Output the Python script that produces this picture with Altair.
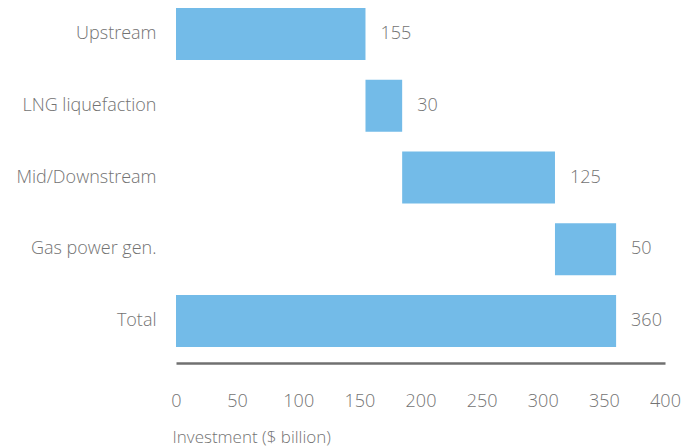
import altair as alt
import pandas as pd

categories = ["Upstream", "LNG liquefaction", "Mid/Downstream", "Gas power gen.", "Total"]
values = [155, 30, 125, 50, 360]
x_ticks = [0, 50, 100, 150, 200, 250, 300, 350, 400]

starts, ends = [], []
cum = 0
for c, v in zip(categories, values):
    if c == "Total":
        starts.append(0)
        ends.append(v)
    else:
        starts.append(cum)
        ends.append(cum + v)
        cum += v

df = pd.DataFrame({"category": categories, "value": values, "start": starts, "end": ends})

FONT = "Open Sans"
GREY = "#737373"
W = 300

y_enc = alt.Y(
    "category:N",
    sort=categories,
    scale=alt.Scale(paddingInner=0.275, paddingOuter=0.1115, align=0),
    axis=alt.Axis(title=None, domain=False, ticks=False, labelPadding=20,
                  labelFontSize=18, labelColor=GREY, labelFont=FONT, labelFontWeight=W,
                  labelLimit=300),
)

base = alt.Chart(df)

bars = base.mark_bar(color="#73BBE8").encode(
    x=alt.X(
        "start:Q",
        scale=alt.Scale(domain=[0, 400], nice=False),
        axis=alt.Axis(values=x_ticks, title="Investment ($ billion)", grid=False, ticks=False,
                      tickSize=0, domainColor="#707070", domainWidth=2.5,
                      labelFlush=False, labelOverlap=False,
                      labelPadding=29, labelFontSize=18, labelColor=GREY, labelFont=FONT,
                      labelFontWeight=W,
                      titleFont=FONT, titleFontSize=17, titleFontWeight=W,
                      titleColor=GREY, titleAnchor="start", titleAlign="left",
                      titleX=-4, titleY=74, titleBaseline="middle"),
    ),
    x2="end:Q",
    y=y_enc,
)

text = base.mark_text(align="left", baseline="middle", dx=15, fontSize=18, color=GREY,
                      font=FONT, fontWeight=W).encode(
    x="end:Q",
    y=alt.Y("category:N", sort=categories),
    text="value:Q",
)

chart = (bars + text).properties(
    width=489,
    height=355,
    autosize=alt.AutoSizeParams(type="none"),
    padding={"left": 168, "top": 0, "right": 20, "bottom": 90},
).configure_view(stroke=None)

chart.save("out.html", embed_options={"renderer": "svg", "actions": False})
